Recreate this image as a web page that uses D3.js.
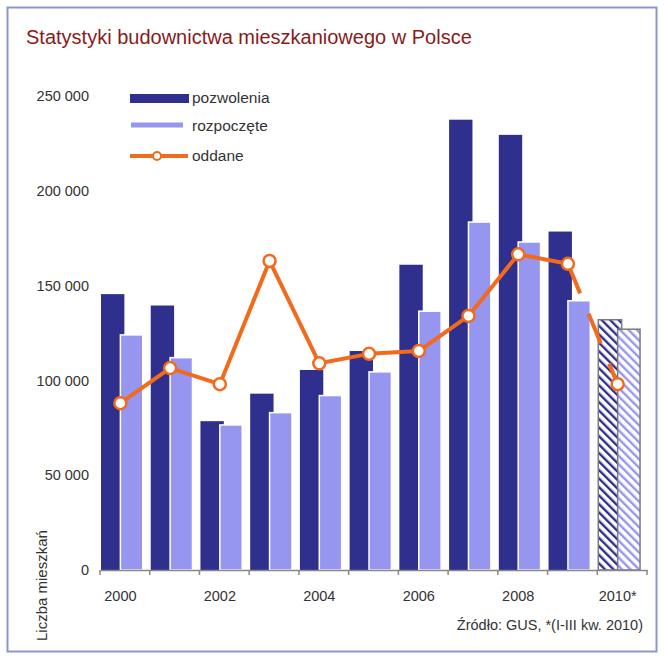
<!DOCTYPE html>
<html><head><meta charset="utf-8">
<script src="https://cdn.jsdelivr.net/npm/d3@7"></script>
<style>html,body{margin:0;padding:0;background:#fff;}svg{display:block;font-family:"Liberation Sans",Arial,sans-serif;}</style>
</head><body>
<script>
const years = ["2000","2001","2002","2003","2004","2005","2006","2007","2008","2009","2010"];
const yearLabels = ["2000","","2002","","2004","","2006","","2008","","2010*"];
const pozwolenia = [145500,139500,78500,93000,105500,115500,161000,237500,229500,178500,132000];
const rozpoczete = [124000,112000,76500,83000,92000,104500,136500,183500,173000,142000,127000];
const oddane = [88000,106500,98000,163000,109000,114000,115500,134000,166500,161500,98000];
const yTicks = [0,50000,100000,150000,200000,250000];
const seriesNames = ["pozwolenia","rozpoczęte","oddane"];
const title = "Statystyki budownictwa mieszkaniowego w Polsce";
const yTitle = "Liczba mieszkań";
const source = "Źródło: GUS, *(I-III kw. 2010)";

const W=664,H=662;
const cDark="#2f2f8e", cLight="#9696f0", cOrange="#f26a1b", txt="#333";
const svg=d3.select("body").append("svg").attr("width",W).attr("height",H);

const defs=svg.append("defs");
function hatch(id,color){
  const p=defs.append("pattern").attr("id",id).attr("patternUnits","userSpaceOnUse")
    .attr("width",6).attr("height",6).attr("patternTransform","rotate(-45)");
  p.append("rect").attr("width",6).attr("height",6).attr("fill","#fff");
  p.append("rect").attr("x",0).attr("width",2.4).attr("height",6).attr("fill",color);
}
hatch("hDark",cDark); hatch("hLight",cLight);

svg.append("rect").attr("x",7.5).attr("y",7.5).attr("width",649).attr("height",644)
  .attr("fill","#fff").attr("stroke","#8a98c8").attr("stroke-width",2);

svg.append("text").attr("x",26).attr("y",44).attr("fill","#8b1a1a")
  .attr("font-size",20).text(title);

const x=d3.scaleBand().domain(years).range([100,647]).paddingInner(0).paddingOuter(0);
const y=d3.scaleLinear().domain([0,250000]).range([570,96]);
const bw=x.bandwidth();

// y tick labels
const yAxis=d3.axisLeft(y).tickValues(yTicks).tickSize(0)
  .tickFormat(d=>d3.format(",")(d).replace(/,/g," "));
const ga=svg.append("g").attr("transform","translate(92,0)").call(yAxis);
ga.select(".domain").remove();
ga.selectAll("text").attr("font-size",14.5).attr("fill",txt).attr("font-family","Liberation Sans, Arial, sans-serif");

// bars
const last=years.length-1;
svg.append("g").selectAll("rect").data(years).join("rect")
  .attr("x",d=>x(d)+1).attr("width",bw*0.47)
  .attr("y",(d,i)=>y(pozwolenia[i])).attr("height",(d,i)=>y(0)-y(pozwolenia[i]))
  .attr("fill",(d,i)=>i===last?"url(#hDark)":cDark)
  .attr("stroke",(d,i)=>i===last?"#7a7a7a":"none").attr("stroke-width",1.5);
svg.append("g").selectAll("rect").data(years).join("rect")
  .attr("x",d=>x(d)+bw*0.41).attr("width",bw*0.45)
  .attr("y",(d,i)=>y(rozpoczete[i])).attr("height",(d,i)=>y(0)-y(rozpoczete[i]))
  .attr("fill",(d,i)=>i===last?"url(#hLight)":cLight)
  .attr("stroke",(d,i)=>i===last?"#7a7a7a":"#fff").attr("stroke-width",1.5);

// x axis
const xAxis=d3.axisBottom(x).tickSize(0).tickFormat((d,i)=>yearLabels[i]);
const gx=svg.append("g").attr("transform","translate(0,570)").call(xAxis);
gx.select(".domain").attr("stroke","#888").attr("stroke-width",1.5);
gx.selectAll(".tick text").attr("x",bw*0.41-bw/2).attr("dy","1.9em")
  .attr("font-size",14.5).attr("fill",txt).attr("font-family","Liberation Sans, Arial, sans-serif");
const bounds=years.map(d=>x(d)).concat([x(years[last])+bw]);
svg.append("g").selectAll("line").data(bounds).join("line")
  .attr("x1",d=>d).attr("x2",d=>d).attr("y1",570).attr("y2",575)
  .attr("stroke","#888").attr("stroke-width",1.5);

// line
const px=(i)=>x(years[i])+bw*0.41;
const line=d3.line().x(d=>px(d)).y(d=>y(oddane[d]));
const idx=d3.range(years.length);
svg.append("path").attr("d",line(idx.slice(0,last))).attr("fill","none")
  .attr("stroke",cOrange).attr("stroke-width",4).attr("stroke-linejoin","round");
svg.append("path").attr("d",line([last-1,last])).attr("fill","none")
  .attr("stroke",cOrange).attr("stroke-width",4).attr("stroke-dasharray","32,22");
svg.append("g").selectAll("circle").data(idx).join("circle")
  .attr("cx",d=>px(d)).attr("cy",d=>y(oddane[d])).attr("r",6)
  .attr("fill","#fff").attr("stroke",cOrange).attr("stroke-width",2.5);

// legend
const lg=svg.append("g");
lg.append("rect").attr("x",130).attr("y",94).attr("width",59).attr("height",9).attr("fill",cDark);
lg.append("rect").attr("x",131).attr("y",122.5).attr("width",52).attr("height",5).attr("fill",cLight);
lg.append("line").attr("x1",130).attr("x2",188).attr("y1",156).attr("y2",156).attr("stroke",cOrange).attr("stroke-width",4);
lg.append("circle").attr("cx",157).attr("cy",156).attr("r",4).attr("fill","#fff").attr("stroke",cOrange).attr("stroke-width",2);
[98,126,156].forEach((yy,i)=>{
  lg.append("text").attr("x",192).attr("y",yy).attr("dy","0.35em").attr("font-size",15.5)
    .attr("fill",txt).text(seriesNames[i]);
});

// y title
svg.append("text").attr("transform","translate(47,641) rotate(-90)")
  .attr("font-size",15).attr("fill",txt).text(yTitle);

// source
svg.append("text").attr("x",643).attr("y",625).attr("dy","0.35em").attr("text-anchor","end")
  .attr("font-size",14.5).attr("fill",txt).text(source);
</script>
</body></html>
